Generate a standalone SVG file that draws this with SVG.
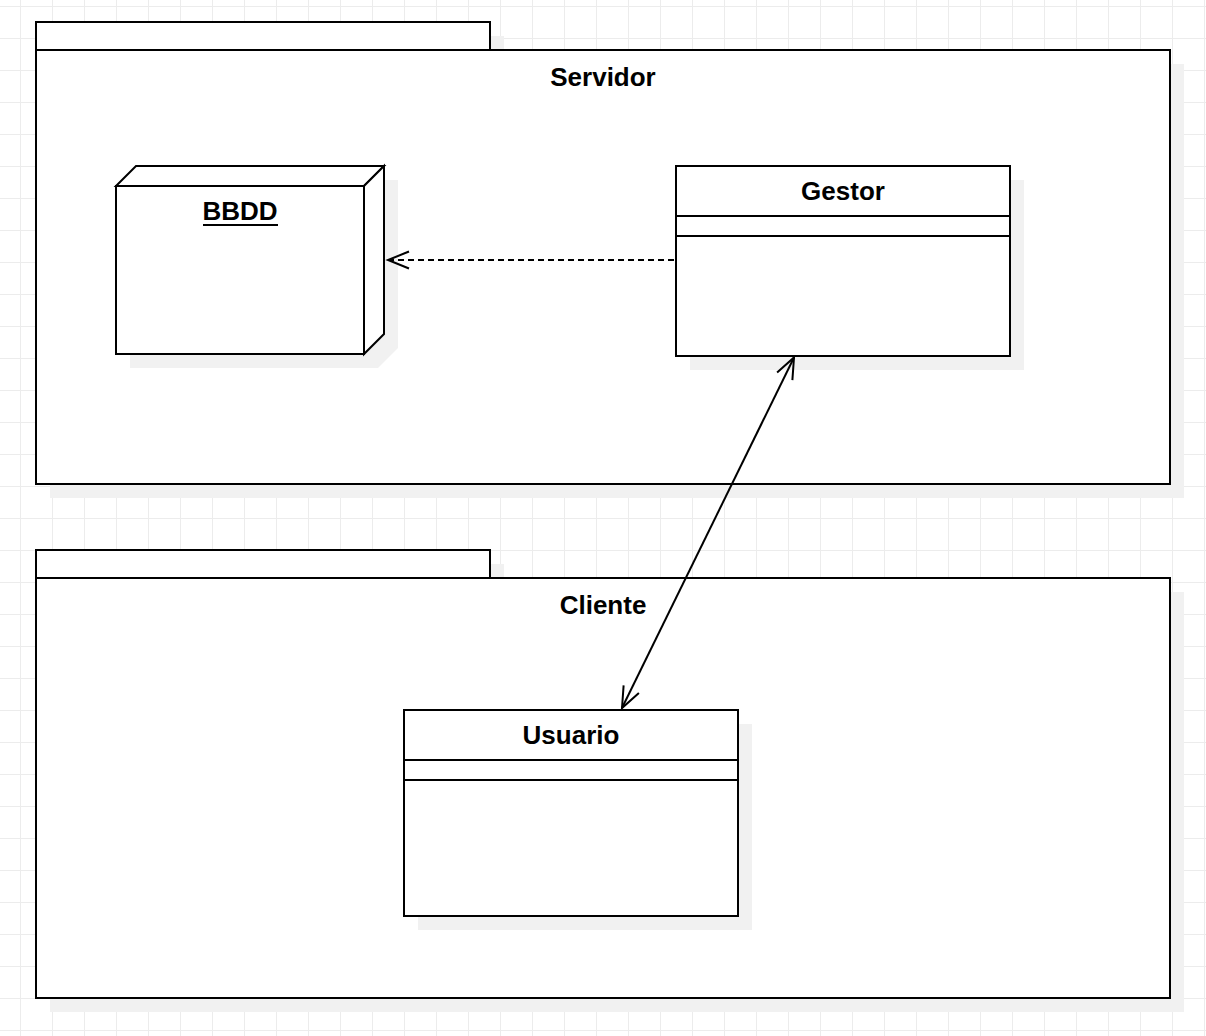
<svg xmlns="http://www.w3.org/2000/svg" width="1206" height="1036" viewBox="0 0 1206 1036">
<style>
.ln{fill:#ffffff;stroke:#000000;stroke-width:2}
.sh{fill:#f1f1f1;stroke:none}
.t{font-family:"Liberation Sans",Arial,sans-serif;font-weight:bold;font-size:26px;fill:#000000;text-anchor:middle}
.c{fill:none;stroke:#000000;stroke-width:2}
</style>
<defs>
<pattern id="grid" x="20" y="6" width="32" height="32" patternUnits="userSpaceOnUse">
<path d="M0 0H32M0 0V32" fill="none" stroke="#ececec" stroke-width="2"/>
</pattern>
<marker id="open" markerUnits="userSpaceOnUse" viewBox="-23 -10 26 20" refX="0" refY="0" markerWidth="26" markerHeight="20" orient="auto-start-reverse" overflow="visible">
<path d="M-21 -8.5L0 0L-21 8.5" fill="none" stroke="#000000" stroke-width="2"/>
</marker>
</defs>
<rect width="1206" height="1036" fill="#ffffff"/>
<rect width="1206" height="1036" fill="url(#grid)"/>

<g id="servidor">
<rect class="sh" x="50" y="36" width="454" height="28"/>
<rect class="sh" x="50" y="64" width="1134" height="434"/>
<rect class="ln" x="36" y="22" width="454" height="28"/>
<rect class="ln" x="36" y="50" width="1134" height="434"/>
<text class="t" x="603" y="86">Servidor</text>
</g>

<g id="cliente">
<rect class="sh" x="50" y="564" width="454" height="28"/>
<rect class="sh" x="50" y="592" width="1134" height="420"/>
<rect class="ln" x="36" y="550" width="454" height="28"/>
<rect class="ln" x="36" y="578" width="1134" height="420"/>
<text class="t" x="603" y="614">Cliente</text>
</g>

<g id="bbdd">
<polygon class="sh" points="130,200 150,180 398,180 398,348 378,368 130,368"/>
<polygon class="ln" points="116,186 136,166 384,166 364,186"/>
<polygon class="ln" points="364,186 384,166 384,334 364,354"/>
<rect class="ln" x="116" y="186" width="248" height="168"/>
<text class="t" x="240" y="220">BBDD</text>
<line x1="203" y1="225" x2="278" y2="225" stroke="#000000" stroke-width="2"/>
</g>

<g id="gestor">
<rect class="sh" x="690" y="180" width="334" height="190"/>
<rect class="ln" x="676" y="166" width="334" height="190"/>
<line class="c" x1="676" y1="216" x2="1010" y2="216"/>
<line class="c" x1="676" y1="236" x2="1010" y2="236"/>
<text class="t" x="843" y="200">Gestor</text>
</g>

<g id="usuario">
<rect class="sh" x="418" y="724" width="334" height="206"/>
<rect class="ln" x="404" y="710" width="334" height="206"/>
<line class="c" x1="404" y1="760" x2="738" y2="760"/>
<line class="c" x1="404" y1="780" x2="738" y2="780"/>
<text class="t" x="571" y="744">Usuario</text>
</g>

<g id="connectors">
<line class="c" x1="674" y1="260" x2="388" y2="260" stroke-dasharray="6 4" marker-end="url(#open)"/>
<line class="c" x1="794" y1="357.5" x2="622" y2="708" marker-start="url(#open)" marker-end="url(#open)"/>
</g>
</svg>
